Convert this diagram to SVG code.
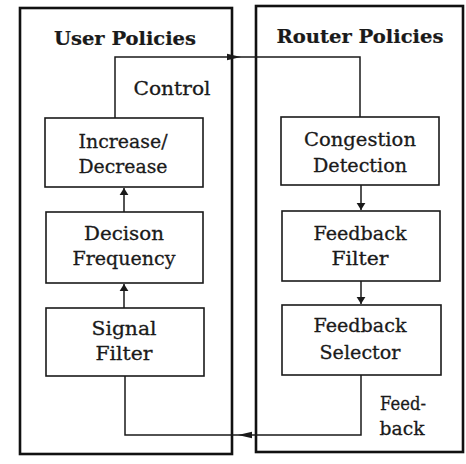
<svg xmlns="http://www.w3.org/2000/svg" width="466" height="464" viewBox="0 0 466 464">
<defs>
<style>
.outer{fill:none;stroke:#111;stroke-width:2.6}
.box{fill:none;stroke:#1a1a1a;stroke-width:1.6}
.conn{fill:none;stroke:#1a1a1a;stroke-width:1.5}
text{font-family:"DejaVu Serif","Liberation Serif",serif;fill:#1a1a1a;stroke:#1a1a1a;stroke-width:0.3;font-size:19px;text-anchor:middle}
.title{font-weight:bold;font-size:18px;stroke-width:0.2}
</style>
<marker id="ah" viewBox="0 0 10 10" refX="10" refY="5" markerWidth="7" markerHeight="11" markerUnits="userSpaceOnUse" orient="auto" preserveAspectRatio="none">
<path d="M0,1 L10,5 L0,9 Z" fill="#1a1a1a"/>
</marker>
<marker id="ahl" viewBox="0 0 10 10" refX="10" refY="5" markerWidth="14" markerHeight="8" markerUnits="userSpaceOnUse" orient="auto" preserveAspectRatio="none">
<path d="M0,1 L10,5 L0,9 Z" fill="#1a1a1a"/>
</marker>
</defs>
<rect width="466" height="464" fill="#fff"/>
<g id="user-policies">
<rect class="outer" x="20" y="8" width="212" height="446"/>
<text class="title" x="125" y="45" textLength="142" lengthAdjust="spacingAndGlyphs">User Policies</text>
</g>
<g id="router-policies">
<rect class="outer" x="256" y="6" width="207" height="446"/>
<text class="title" x="360" y="43" textLength="167" lengthAdjust="spacingAndGlyphs">Router Policies</text>
</g>
<g id="increase-decrease">
<rect class="box" x="45" y="118" width="158" height="69"/>
<text x="123" y="148" textLength="89" lengthAdjust="spacingAndGlyphs">Increase/</text>
<text x="123" y="173" textLength="89" lengthAdjust="spacingAndGlyphs">Decrease</text>
</g>
<g id="decision-frequency">
<rect class="box" x="46" y="212" width="157" height="71"/>
<text x="124" y="240" textLength="80" lengthAdjust="spacingAndGlyphs">Decison</text>
<text x="124" y="265" textLength="103" lengthAdjust="spacingAndGlyphs">Frequency</text>
</g>
<g id="signal-filter">
<rect class="box" x="46" y="308" width="158" height="68"/>
<text x="124" y="335" textLength="65" lengthAdjust="spacingAndGlyphs">Signal</text>
<text x="124" y="360" textLength="57" lengthAdjust="spacingAndGlyphs">Filter</text>
</g>
<g id="congestion-detection">
<rect class="box" x="281" y="117" width="158" height="68"/>
<text x="360" y="146" textLength="112" lengthAdjust="spacingAndGlyphs">Congestion</text>
<text x="360" y="172" textLength="94" lengthAdjust="spacingAndGlyphs">Detection</text>
</g>
<g id="feedback-filter">
<rect class="box" x="282" y="211" width="158" height="70"/>
<text x="360" y="240" textLength="93" lengthAdjust="spacingAndGlyphs">Feedback</text>
<text x="360" y="265" textLength="57" lengthAdjust="spacingAndGlyphs">Filter</text>
</g>
<g id="feedback-selector">
<rect class="box" x="282" y="305" width="159" height="70"/>
<text x="360" y="332" textLength="93" lengthAdjust="spacingAndGlyphs">Feedback</text>
<text x="360" y="359" textLength="81" lengthAdjust="spacingAndGlyphs">Selector</text>
</g>
<g id="connectors">
<path class="conn" d="M115,118 V57 H241" marker-end="url(#ahl)"/>
<path class="conn" d="M241,57 H360 V117"/>
<path class="conn" d="M124,212 V188" marker-end="url(#ah)"/>
<path class="conn" d="M124,308 V284" marker-end="url(#ah)"/>
<path class="conn" d="M361,185 V210" marker-end="url(#ah)"/>
<path class="conn" d="M361,281 V304" marker-end="url(#ah)"/>
<path class="conn" d="M361,375 V435 H238" marker-end="url(#ahl)"/>
<path class="conn" d="M238,435 H125 V376"/>
<text x="172" y="95" textLength="77" lengthAdjust="spacingAndGlyphs">Control</text>
<text x="403" y="410" textLength="46" lengthAdjust="spacingAndGlyphs">Feed-</text>
<text x="402" y="435" textLength="45" lengthAdjust="spacingAndGlyphs">back</text>
</g>
</svg>
